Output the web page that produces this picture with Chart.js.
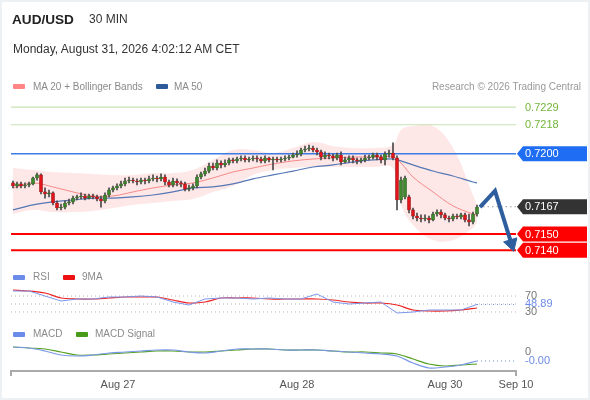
<!DOCTYPE html>
<html><head><meta charset="utf-8">
<script src="https://cdn.jsdelivr.net/npm/chart.js@4.4.1/dist/chart.umd.min.js"></script>
<style>
html,body{margin:0;padding:0;background:#eef1f4;}
#wrap{position:relative;width:590px;height:400px;overflow:hidden;background:#eef1f4;}
#frame{position:absolute;left:2px;top:2px;width:586px;height:396px;background:#fff;}
#c{position:absolute;left:0;top:0;}
.t{position:absolute;font-family:"Liberation Sans",Arial,sans-serif;white-space:nowrap;line-height:1;}
.lg{font-size:10px;color:#8a8a8a;}
.sw{position:absolute;width:12px;height:5px;border-radius:1px;}
</style></head>
<body>
<div id="wrap">
<div id="frame"></div>
<canvas id="c" width="590" height="400"></canvas>
<div class="t" style="left:12px;top:12.5px;font-size:13.6px;font-weight:bold;color:#222;">AUD/USD</div>
<div class="t" style="left:89px;top:13px;font-size:12px;color:#333;">30 MIN</div>
<div class="t" style="left:13px;top:42.5px;font-size:12px;color:#333;">Monday, August 31, 2026 4:02:12 AM CET</div>

<div class="sw" style="left:13px;top:84px;background:#ff8585;"></div>
<div class="t lg" style="left:33px;top:81.5px;">MA 20 + Bollinger Bands</div>
<div class="sw" style="left:156px;top:84px;background:#2e5a9c;"></div>
<div class="t lg" style="left:174px;top:81.5px;">MA 50</div>
<div class="t lg" style="right:9px;top:81.5px;color:#999;">Research © 2026 Trading Central</div>

<div class="sw" style="left:13px;top:274.5px;background:#6b8be8;"></div>
<div class="t lg" style="left:33px;top:272px;">RSI</div>
<div class="sw" style="left:63px;top:274.5px;background:#ee1111;"></div>
<div class="t lg" style="left:82px;top:272px;">9MA</div>

<div class="sw" style="left:13px;top:331.5px;background:#6b8be8;"></div>
<div class="t lg" style="left:33px;top:329px;">MACD</div>
<div class="sw" style="left:76px;top:331.5px;background:#4a9a1a;"></div>
<div class="t lg" style="left:95px;top:329px;">MACD Signal</div>
</div>
<script>
// ---- candle data (30 min) ----
const candleOpen = [0.71818,0.71799,0.71812,0.71799,0.71805,0.71812,0.71849,0.71868,0.71762,0.71749,
0.71756,0.71693,0.71662,0.71668,0.71693,0.71700,0.71724,0.71731,0.71737,0.71724,
0.71737,0.71731,0.71718,0.71706,0.71743,0.71774,0.71787,0.71799,0.71812,0.71830,
0.71836,0.71830,0.71824,0.71836,0.71830,0.71843,0.71849,0.71843,0.71855,0.71824,
0.71805,0.71830,0.71818,0.71812,0.71780,0.71787,0.71799,0.71855,0.71874,0.71892,
0.71923,0.71911,0.71942,0.71930,0.71942,0.71961,0.71955,0.71967,0.71973,0.71961,
0.71967,0.71973,0.71967,0.71955,0.71973,0.71961,0.71967,0.71961,0.71967,0.71973,
0.71979,0.71992,0.71998,0.72023,0.72029,0.72035,0.72023,0.72011,0.71979,0.71992,
0.71986,0.71973,0.71992,0.71948,0.71961,0.71973,0.71961,0.71955,0.71961,0.71973,
0.71979,0.71992,0.71979,0.71961,0.71998,0.72004,0.71973,0.71712,0.71731,0.71731,
0.71650,0.71612,0.71600,0.71594,0.71600,0.71588,0.71625,0.71637,0.71619,0.71600,
0.71594,0.71612,0.71606,0.71619,0.71588,0.71575,0.71625];
const candleHigh = [0.71830,0.71824,0.71824,0.71818,0.71824,0.71855,0.71880,0.71874,0.71787,0.71774,
0.71762,0.71706,0.71687,0.71706,0.71718,0.71737,0.71743,0.71756,0.71749,0.71749,
0.71749,0.71743,0.71737,0.71756,0.71787,0.71799,0.71812,0.71830,0.71849,0.71855,
0.71849,0.71843,0.71849,0.71849,0.71861,0.71868,0.71861,0.71874,0.71868,0.71836,
0.71849,0.71843,0.71830,0.71824,0.71805,0.71812,0.71868,0.71886,0.71911,0.71942,
0.71942,0.71961,0.71955,0.71961,0.71973,0.71973,0.71979,0.71986,0.71986,0.71979,
0.71986,0.71986,0.71979,0.71986,0.71979,0.71979,0.71979,0.71979,0.71986,0.71992,
0.72004,0.72017,0.72035,0.72048,0.72054,0.72048,0.72035,0.72023,0.72011,0.72004,
0.71998,0.72004,0.72011,0.71979,0.71986,0.71986,0.71973,0.71973,0.71992,0.71992,
0.72004,0.72004,0.71992,0.72011,0.72023,0.72067,0.71986,0.71855,0.71861,0.71743,
0.71662,0.71631,0.71619,0.71619,0.71612,0.71637,0.71650,0.71650,0.71631,0.71612,
0.71625,0.71625,0.71631,0.71631,0.71625,0.71637,0.71681];
const candleLow = [0.71787,0.71787,0.71787,0.71787,0.71793,0.71805,0.71836,0.71749,0.71724,0.71731,
0.71681,0.71650,0.71650,0.71656,0.71681,0.71687,0.71712,0.71718,0.71712,0.71718,
0.71718,0.71706,0.71668,0.71693,0.71731,0.71762,0.71774,0.71787,0.71799,0.71818,
0.71818,0.71805,0.71812,0.71812,0.71818,0.71830,0.71824,0.71830,0.71805,0.71793,
0.71793,0.71799,0.71793,0.71768,0.71768,0.71774,0.71787,0.71843,0.71861,0.71880,
0.71899,0.71899,0.71911,0.71917,0.71930,0.71942,0.71942,0.71955,0.71948,0.71948,
0.71955,0.71948,0.71942,0.71942,0.71948,0.71899,0.71948,0.71948,0.71955,0.71961,
0.71973,0.71979,0.71986,0.72011,0.72017,0.72011,0.71992,0.71961,0.71967,0.71967,
0.71955,0.71961,0.71930,0.71942,0.71948,0.71942,0.71936,0.71942,0.71948,0.71961,
0.71967,0.71961,0.71942,0.71930,0.71979,0.71961,0.71650,0.71693,0.71718,0.71631,
0.71594,0.71581,0.71575,0.71581,0.71569,0.71581,0.71612,0.71600,0.71588,0.71575,
0.71581,0.71594,0.71594,0.71575,0.71550,0.71563,0.71612];
const candleClose = [0.71799,0.71812,0.71799,0.71805,0.71812,0.71849,0.71868,0.71762,0.71749,0.71756,
0.71693,0.71662,0.71668,0.71693,0.71700,0.71724,0.71731,0.71737,0.71724,0.71737,
0.71731,0.71718,0.71706,0.71743,0.71774,0.71787,0.71799,0.71812,0.71830,0.71836,
0.71830,0.71824,0.71836,0.71830,0.71843,0.71849,0.71843,0.71855,0.71824,0.71805,
0.71830,0.71818,0.71812,0.71780,0.71787,0.71799,0.71855,0.71874,0.71892,0.71923,
0.71911,0.71942,0.71930,0.71942,0.71961,0.71955,0.71967,0.71973,0.71961,0.71967,
0.71973,0.71967,0.71955,0.71973,0.71961,0.71967,0.71961,0.71967,0.71973,0.71979,
0.71992,0.71998,0.72023,0.72029,0.72035,0.72023,0.72011,0.71979,0.71992,0.71986,
0.71973,0.71992,0.71948,0.71961,0.71973,0.71961,0.71955,0.71961,0.71973,0.71979,
0.71992,0.71979,0.71961,0.71998,0.72004,0.71973,0.71712,0.71836,0.71849,0.71650,
0.71612,0.71600,0.71594,0.71600,0.71588,0.71625,0.71637,0.71619,0.71600,0.71594,
0.71612,0.71606,0.71619,0.71588,0.71575,0.71625,0.71668];

// ---- moving averages / Bollinger bands (sampled at candle indices) ----
const maIdx = [0,5,10,15,20,25,30,35,40,45,50,55,60,65,70,75,80,85,90,95,97,100,105,110,115,116];
const ma20 = [0.71787,0.71818,0.71793,0.71762,0.71737,0.71737,0.71762,0.71787,0.71805,0.71818,0.71849,0.71886,0.71911,0.71936,0.71955,0.71967,0.71973,0.71979,0.71979,0.71979,0.71942,0.71855,0.71762,0.71675,0.71625,0.71619];
const ma50 = [0.71650,0.71681,0.71700,0.71712,0.71724,0.71724,0.71731,0.71743,0.71762,0.71787,0.71793,0.71812,0.71843,0.71868,0.71892,0.71917,0.71930,0.71948,0.71961,0.71967,0.71955,0.71930,0.71892,0.71861,0.71824,0.71818];
const bbUpper = [0.71911,0.71899,0.71886,0.71880,0.71874,0.71868,0.71868,0.71880,0.71880,0.71899,0.71961,0.72023,0.72023,0.72004,0.72035,0.72073,0.72048,0.72035,0.72035,0.72054,0.72147,0.72172,0.72172,0.72035,0.71743,0.71681];
const bbLower = [0.71625,0.71650,0.71637,0.71637,0.71644,0.71662,0.71681,0.71693,0.71706,0.71718,0.71762,0.71799,0.71868,0.71899,0.71911,0.71917,0.71917,0.71917,0.71917,0.71911,0.71681,0.71557,0.71463,0.71463,0.71538,0.71575];

// ---- oscillators (sampled at candle indices) ----
const oscIdx = [0,4,8,12,16,20,24,28,32,36,40,44,48,52,56,60,64,68,72,76,80,84,88,92,96,100,104,108,112,116];
const rsi = [82.5,82.5,70,57.5,62.5,62.5,67.5,67.5,70,67.5,55,47.5,62.5,65,65,62.5,65,62.5,62.5,75,55,50,52.5,55,27.5,30,35,35,35,48.89];
const rsiMa9 = [85,82.5,77.5,65,62.5,62.5,65,67.5,67.5,67.5,60,52.5,55,65,65,65,62.5,62.5,62.5,62.5,60,55,52.5,52.5,47.5,35,32.5,32.5,35,40];
const macd = [0.0006,0.0005,0.0002,-0.0002,-0.0003,-0.0002,0,0.0001,0.0002,0.0003,0.0003,0.0001,0,0.0002,0.0004,0.0004,0.0004,0.0003,0.0003,0.0003,0.0002,0.0001,0,-0.0001,-0.0003,-0.0010,-0.0015,-0.0014,-0.0012,-0.0008];
const macdSignal = [0.0006,0.0005,0.0004,0.0001,-0.0002,-0.0002,-0.0001,0,0.0001,0.0002,0.0002,0.0001,0.0001,0.0002,0.0003,0.0004,0.0004,0.0003,0.0003,0.0003,0.0002,0.0001,0.0001,0,-0.0001,-0.0006,-0.0011,-0.0013,-0.0012,-0.0011];
const rsiLevels = [70, 50, 30];

// ---- key levels & forecast ----
const levelValues = [0.7229, 0.7218, 0.7200, 0.7167, 0.7150, 0.7140];
const levelLabels = ['0.7229', '0.7218', '0.7200', '0.7167', '0.7150', '0.7140'];
const forecastIdx = [116.75, 120.5, 124.6];
const forecastVal = [0.71668, 0.71768, 0.71440];

// ---- x axis ----
const xMin = -0.5, xMax = 125.75;
const tickPos = [26.25, 71, 108, 125.75];
const tickLabels = ['Aug 27', 'Aug 28', 'Aug 30', 'Sep 10'];

// ---------------- build ----------------
const n = candleClose.length;
const last = n - 1;
const up = candleClose.map((c, i) => c >= candleOpen[i]);
const bodies = candleClose.map((c, i) => ({x: i, y: [candleOpen[i], c]}));
const wicks = candleClose.map((c, i) => ({x: i, y: [candleLow[i], candleHigh[i]]}));
const pts = (idx, vals) => vals.map((v, i) => ({x: idx[i], y: v}));
const hline = (v, x0) => [{x: x0 === undefined ? xMin : x0, y: v}, {x: xMax, y: v}];

const levelStyle = [
  {line: '#c9e2b3', w: 1.2, dash: [], box: null, text: '#72b53a'},
  {line: '#c9e2b3', w: 1.2, dash: [], box: null, text: '#72b53a'},
  {line: '#3d7be6', w: 1.5, dash: [], box: '#1f6df2', text: '#fff'},
  {line: '#9a9a9a', w: 1.2, dash: [1.5, 3], box: '#333333', text: '#fff'},
  {line: '#ff0000', w: 2, dash: [], box: '#ff0000', text: '#fff'},
  {line: '#ff0000', w: 2, dash: [], box: '#ff0000', text: '#fff'}
];

const datasets = [];
const lineBase = {type: 'line', pointRadius: 0, fill: false, tension: 0, xAxisID: 'x'};

// candles
datasets.push({type: 'bar', data: bodies, yAxisID: 'yPrice', xAxisID: 'x', grouped: false, barThickness: 3,
  backgroundColor: up.map(u => u ? '#3f8a2c' : '#e3151b'),
  borderColor: up.map(u => u ? '#24531a' : '#8c1014'), borderWidth: 0.6, borderSkipped: false, order: 1});
datasets.push({type: 'bar', data: wicks, yAxisID: 'yPrice', xAxisID: 'x', grouped: false, barThickness: 1,
  backgroundColor: '#4a4a4a', borderWidth: 0, order: 2});

// levels
levelValues.forEach((v, i) => {
  const st = levelStyle[i];
  datasets.push(Object.assign({}, lineBase, {data: hline(v, i === 3 ? last + 1.5 : undefined), yAxisID: 'yPrice',
    borderColor: st.line, borderWidth: st.w, borderDash: st.dash, order: 5}));
});

// MAs and bands
datasets.push(Object.assign({}, lineBase, {data: pts(maIdx, ma20), yAxisID: 'yPrice', borderColor: '#f58a8a', borderWidth: 1, tension: 0.35, order: 4}));
datasets.push(Object.assign({}, lineBase, {data: pts(maIdx, ma50), yAxisID: 'yPrice', borderColor: '#5577b5', borderWidth: 1.2, tension: 0.35, order: 4}));
datasets.push(Object.assign({}, lineBase, {data: pts(maIdx, bbUpper), yAxisID: 'yPrice', borderWidth: 0, borderColor: 'rgba(0,0,0,0)', tension: 0.4, fill: '+1', backgroundColor: 'rgba(253,218,218,0.65)', order: 20}));
datasets.push(Object.assign({}, lineBase, {data: pts(maIdx, bbLower), yAxisID: 'yPrice', borderWidth: 0, borderColor: 'rgba(0,0,0,0)', tension: 0.4, order: 21}));

// forecast arrow
datasets.push(Object.assign({}, lineBase, {data: pts(forecastIdx, forecastVal), yAxisID: 'yPrice', borderColor: '#2f5e9e', borderWidth: 4,
  pointRadius: [0, 0, 8], pointStyle: 'triangle', pointRotation: 163, pointBackgroundColor: '#2f5e9e', pointBorderColor: '#2f5e9e', pointBorderWidth: 1, order: 0, clip: false}));

// RSI
rsiLevels.forEach(v => datasets.push(Object.assign({}, lineBase, {data: hline(v), yAxisID: 'yRsi', borderColor: '#b5b5b5', borderWidth: 1, borderDash: [1, 3], order: 6})));
datasets.push(Object.assign({}, lineBase, {data: pts(oscIdx, rsi), yAxisID: 'yRsi', borderColor: '#7b97ea', borderWidth: 1, order: 3}));
datasets.push(Object.assign({}, lineBase, {data: pts(oscIdx, rsiMa9), yAxisID: 'yRsi', borderColor: '#ee2222', borderWidth: 1.2, tension: 0.3, order: 3}));
datasets.push(Object.assign({}, lineBase, {data: hline(rsi[rsi.length - 1], oscIdx[oscIdx.length - 1]), yAxisID: 'yRsi', borderColor: '#6b8be8', borderWidth: 1, borderDash: [1, 3], order: 6}));

// MACD
datasets.push(Object.assign({}, lineBase, {data: pts(oscIdx, macd), yAxisID: 'yMacd', borderColor: '#7b97ea', borderWidth: 1.2, tension: 0.35, order: 3}));
datasets.push(Object.assign({}, lineBase, {data: pts(oscIdx, macdSignal), yAxisID: 'yMacd', borderColor: '#55a022', borderWidth: 1.2, tension: 0.35, order: 3}));
datasets.push(Object.assign({}, lineBase, {data: hline(macd[macd.length - 1], oscIdx[oscIdx.length - 1]), yAxisID: 'yMacd', borderColor: '#6b8be8', borderWidth: 1, borderDash: [1, 3], order: 6}));

const FONT = '"Liberation Sans", Arial, sans-serif';

const overlay = {
  id: 'overlay',
  afterDraw(chart) {
    const {ctx, chartArea: a, scales} = chart;
    const p = scales.yPrice, r = scales.yRsi, m = scales.yMacd;
    ctx.save();
    // axis end ticks
    ctx.strokeStyle = '#aaaaaa'; ctx.lineWidth = 2;
    ctx.beginPath();
    ctx.moveTo(a.left, a.bottom - 1); ctx.lineTo(a.left, a.bottom + 5);
    ctx.moveTo(a.right, a.bottom - 1); ctx.lineTo(a.right, a.bottom + 5);
    ctx.stroke();
    // price tags
    ctx.textBaseline = 'middle';
    ctx.font = '11px ' + FONT;
    levelValues.forEach((v, i) => {
      const y = p.getPixelForValue(v);
      const st = levelStyle[i];
      const x0 = a.right + 1, x1 = a.right + 7, x2 = a.right + 71, h = 15;
      if (st.box) {
        ctx.fillStyle = st.box;
        ctx.beginPath();
        ctx.moveTo(x0, y); ctx.lineTo(x1, y - h / 2); ctx.lineTo(x2, y - h / 2);
        ctx.lineTo(x2, y + h / 2); ctx.lineTo(x1, y + h / 2); ctx.closePath(); ctx.fill();
      }
      ctx.fillStyle = st.text;
      ctx.fillText(levelLabels[i], a.right + 9, y + 0.5);
    });
    // oscillator labels
    ctx.font = '11px ' + FONT;
    ctx.fillStyle = '#777';
    ctx.fillText('70', a.right + 9, r.getPixelForValue(70));
    ctx.fillText('30', a.right + 9, r.getPixelForValue(30));
    ctx.fillText('0', a.right + 9, m.getPixelForValue(0) - 1);
    ctx.fillStyle = '#6b8be8';
    ctx.fillText(rsi[rsi.length - 1].toFixed(2), a.right + 9, r.getPixelForValue(rsi[rsi.length - 1]));
    ctx.fillText('-' + Math.abs(macd[macd.length - 1]).toFixed(2), a.right + 9, m.getPixelForValue(macd[macd.length - 1]));
    ctx.restore();
  }
};

new Chart(document.getElementById('c'), {
  type: 'line',
  data: {datasets},
  options: {
    responsive: false,
    animation: false,
    events: [],
    layout: {padding: {left: 11, right: 74, top: 100, bottom: 0}},
    plugins: {legend: {display: false}, tooltip: {enabled: false}},
    scales: {
      x: {type: 'linear', min: xMin, max: xMax, offset: false,
        grid: {display: false, drawTicks: false},
        border: {display: true, color: '#aaaaaa', width: 2},
        afterBuildTicks: s => { s.ticks = tickPos.map(v => ({value: v})); },
        afterFit: s => { s.height = 29; },
        ticks: {autoSkip: false, maxRotation: 0, padding: 7, color: '#555', font: {size: 11, family: FONT},
          callback: (v, i) => tickLabels[i]}},
      yPrice: {type: 'linear', axis: 'y', position: 'left', display: false, min: 0.70648, max: 0.72334},
      yRsi: {type: 'linear', axis: 'y', position: 'left', display: false, min: -117.5, max: 560},
      yMacd: {type: 'linear', axis: 'y', position: 'left', display: false, min: -0.0018, max: 0.0253}
    }
  },
  plugins: [overlay]
});
</script>
</body></html>
